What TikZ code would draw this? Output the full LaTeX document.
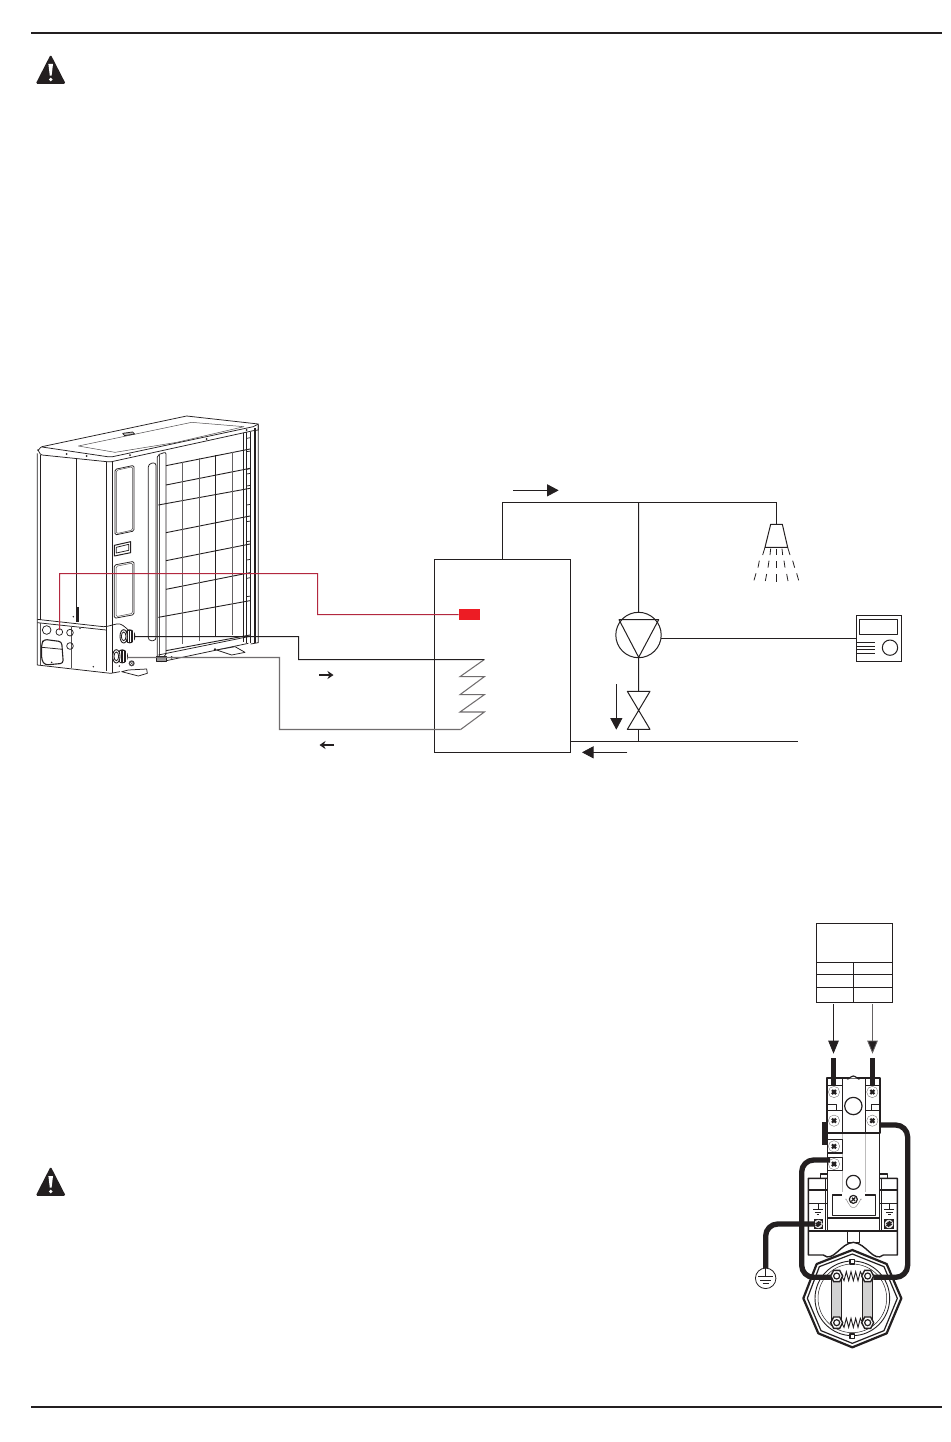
\documentclass[tikz,border=0pt]{standalone}
\usetikzlibrary{arrows.meta,shapes.geometric,calc}
\definecolor{ink}{HTML}{231F20}
\definecolor{sensorred}{HTML}{ED1C24}
\definecolor{redwire}{HTML}{B3283F}
\definecolor{bargray}{HTML}{D2D2D2}
\tikzset{
  rule/.style={draw=ink,line width=1.9pt},
  unit/.style={draw=ink,line width=.75pt,line join=round},
  unitthin/.style={draw=ink!80,line width=.5pt,line join=round},
  grill/.style={draw=ink,line width=.9pt},
  grillv/.style={draw=ink!70,line width=.9pt},
  pipe/.style={draw=ink,line width=1pt},
  pipegray/.style={draw=ink!65,line width=1.05pt},
  flow/.style={draw=ink,line width=.8pt,-{Triangle[length=11.5pt,width=12pt,fill=ink]}},
  smallflow/.style={draw=ink,line width=1.1pt,-{Stealth[length=6pt,width=8pt,inset=2pt,fill=ink]}},
  power/.style={draw=ink,line width=.8pt,-{Triangle[length=13pt,width=10.5pt,fill=ink]}},
  thickwire/.style={draw=ink,line width=5.3pt,line join=round},
  part/.style={draw=ink,line width=1pt,line join=round},
  heavy/.style={draw=ink,line width=1.8pt,line join=round},
  lightline/.style={draw=ink!30,line width=.9pt},
  warnsign/.pic={
    \fill[ink,rounded corners=1.5pt] (0,-15) -- (15,14.3) -- (-15,14.3) -- cycle;
    \fill[white] (-2.3,-5.5) -- (2.3,-5.5) -- (.9,6.2) -- (-.9,6.2) -- cycle;
    \fill[white] (0,10) circle[radius=1.9];
  },
  screw/.pic={
    \draw[ink!65,line width=.35pt,fill=white] (0,0) circle[radius=17];
    \draw[ink,line width=2.2pt] (-6,-6) -- (6,6) (-6,6) -- (6,-6);
  },
  earthscrew/.pic={
    \fill[ink] (-14,-14) rectangle (14,14);
    \draw[white,line width=.5pt,fill=ink!15] (0,0) circle[radius=12];
    \draw[ink,line width=1.2pt] (-8,6) -- (8,-6) (-8,0) -- (3,-8) (-3,8) -- (8,0);
  },
  nut/.pic={
    \draw[ink,line width=1.4pt,fill=white] (-9,-17) -- (9,-17) -- (18,0) -- (9,17) -- (-9,17) -- (-18,0) -- cycle;
    \draw[ink,line width=1.2pt,fill=white] (0,0) circle[radius=9];
  },
  earthsym/.pic={
    \draw[ink,line width=.85pt] (0,-18) -- (0,0) (-15,0) -- (15,0) (-10,8) -- (10,8) (-4,15) -- (4,15);
  },
  knob/.pic={
    \fill[ink] (18,0) ellipse[x radius=17,y radius=21];
    \foreach \d in {12,20,28} \draw[white,line width=.3pt] (\d,-16) -- (\d,16);
    \draw[ink,line width=.9pt,fill=white] (0,0) ellipse[x radius=11,y radius=20];
    \draw[ink,line width=.8pt] (0,0) ellipse[x radius=7,y radius=13];
  },
  zoomA/.style={shift={(20,400)},x=.33333pt,y=-.33333pt},
  zoomB/.style={shift={(420,470)},x=.33333pt,y=-.33333pt},
  zoomC/.style={shift={(740,1130)},x=.33333pt,y=-.33333pt},
}
\begin{document}
\begin{tikzpicture}[x=1pt,y=-1pt]
\useasboundingbox (0,0) rectangle (950,1442);
\fill[white] (0,0) rectangle (950,1442);

% page rules and warning signs
\coordinate (ruleTopL) at (31,33);   \coordinate (ruleTopR) at (942,33);
\coordinate (ruleBotL) at (31,1407); \coordinate (ruleBotR) at (942,1407);
\draw[rule] (ruleTopL) -- (ruleTopR);
\draw[rule] (ruleBotL) -- (ruleBotR);
\pic at (50.7,69.5) {warnsign};
\pic at (50.7,1181.5) {warnsign};

% ---------- outdoor unit ----------
\begin{scope}[zoomA]
  % top face
  \draw[unit] (52,150) to[out=-70,in=190] (66,140) -- (500,48) -- (715,72) -- (715,90) -- (700,92) -- (275,185) to[out=190,in=0] (260,185) -- (66,165) to[out=190,in=70] (52,150);
  \draw[unit] (66,141) -- (262,170) -- (278,170) -- (700,80) -- (715,72);
  \draw[unitthin] (175,138) -- (515,67) -- (672,80) -- (470,127) -- (285,157) -- cycle;
  \draw[unit,fill=ink!30] (308,100) -- (338,96) -- (344,102) -- (314,107) -- cycle;
  \foreach \p in {(140,162),(200,168),(330,165),(560,117),(680,90)} \fill[ink] \p circle[radius=3];
  % body
  \draw[unit] (52,160) -- (52,795) -- (272,820) -- (300,815);
  \draw[unit] (60,165) -- (60,660);
  \draw[unit] (170,178) -- (170,665);
  \draw[unit] (260,187) -- (260,812);
  \draw[unit] (276,186) -- (276,820);
  \fill[ink] (168,622) rectangle (177,665);
  \draw[unit] (52,658) -- (250,680) to[out=0,in=190] (290,672) to[out=10,in=140] (325,690);
  \draw[unit] (52,668) -- (258,690);
  \draw[unitthin] (155,680) -- (155,805);
  \draw[unitthin] (62,668) -- (62,795);
  \foreach \c/\r in {(80,690)/13,(118,696)/10,(150,698)/10,(150,738)/10} \draw[unit] \c circle[radius=\r];
  \draw[unit,rounded corners=3pt,line width=1.1pt] (65,730) -- (72,718) -- (125,725) -- (130,790) -- (75,795) -- (65,780) -- cycle;
  \draw[unit] (66,742) -- (128,748);
  \foreach \p in {(95,787),(180,685),(220,800),(160,650),(298,798)} \fill[ink] \p circle[radius=2.5];
  % side panels
  \draw[unit,rounded corners=1.5pt] (285,208) -- (342,196) -- (342,393) -- (285,405) -- cycle;
  \draw[unitthin,rounded corners=1.5pt] (289,211) -- (338,200) -- (338,390) -- (289,401) -- cycle;
  \draw[unit,line width=1pt] (283,436) -- (332,425) -- (332,458) -- (283,468) -- cycle;
  \draw[unit] (289,442) -- (326,433) -- (326,451) -- (289,459) -- cycle;
  \draw[unit,rounded corners=1.5pt] (283,495) -- (342,484) -- (342,644) -- (283,655) -- cycle;
  \draw[unitthin,rounded corners=1.5pt] (288,499) -- (338,489) -- (338,640) -- (288,650) -- cycle;
  \draw[unit,rounded corners=3pt] (385,192) -- (408,187) -- (408,722) -- (385,722) -- cycle;
  % grill frame
  \draw[unit,rounded corners=2pt] (412,165) -- (438,156) -- (438,768) -- (412,775) -- cycle;
  \draw[unitthin] (418,165) -- (418,772);
  \draw[unit] (670,100) -- (670,725);
  \draw[unit] (680,95) -- (680,728);
  \draw[unit,line width=1.1pt] (692,95) -- (692,730);
  \draw[unit,line width=1.1pt] (705,85) -- (705,730);
  \draw[unit] (715,75) -- (715,728) -- (692,732);
  \foreach \y in {115,155,208,222,258,315,365,425,480,535,590} \draw[unit] (680,\y) -- (692,\y-2);
  % grill
  \foreach \a/\b in {438/197,438/255,415/315,438/398,438/482,438/568,415/652}
    \draw[grill] (\a,\b) -- (690,\b-50);
  \draw[grill] (438,752) -- (690,705);
  \foreach \x/\a/\b in {487/186/732,537/175/722,637/155/705}
    \draw[grillv] (\x,\a) -- (\x,\b);
  \draw[grill] (587,165) -- (587,712);
  % base and feet
  \draw[unit] (415,765) -- (685,710);
  \draw[unit] (425,785) -- (685,730);
  \draw[unit,fill=ink!45] (410,768) rectangle (438,785);
  \foreach \p in {(455,772),(585,748)} \fill[ink] \p circle[radius=4];
  \draw[unit,fill=white] (590,750) -- (645,740) -- (675,757) -- (635,765) -- cycle;
  \draw[unit,fill=white] (325,810) -- (380,807) -- (382,820) -- (355,828) -- (305,815) -- cycle;
  \fill[ink!85] (335,790) circle[radius=9];
  \draw[white,line width=.4pt] (335,790) circle[radius=4];
  % valves
  \pic at (311,709) {knob};
  \pic at (289,769) {knob};
  \coordinate (valveUpper) at (345,709.5);
  \coordinate (valveLower) at (322,772.5);
  \coordinate (redHole) at (118.5,690);
\end{scope}

% ---------- hot water circuit ----------
\node[draw=ink,line width=1pt,minimum width=136pt,minimum height=193pt,inner sep=0pt,outer sep=0pt] (tank) at (502.5,656) {};
\node[fill=sensorred,minimum width=21.5pt,minimum height=10.6pt,inner sep=0pt,outer sep=0pt] (sensor) at (469.3,614.5) {};
\node[draw=ink,line width=1pt,circle,minimum size=45.4pt,inner sep=0pt,outer sep=0pt] (pump) at (638.5,635) {};
\node[draw=ink,line width=1pt,minimum width=45pt,minimum height=46pt,inner sep=0pt,outer sep=0pt] (controller) at (879,638.5) {};

\begin{scope}[zoomB]
  % coil
  \coordinate (coilTop) at (193,568.5);
  \coordinate (coilBot) at (122,778.5);
  \draw[pipegray,line join=miter] (coilTop) -- (120,620) -- (193,620) -- (120,674) -- (193,674) -- (120,726) -- (193,726) -- (coilBot);
  % pump triangle
  \draw[part] (597,449) -- (716,449) -- (656,562) -- cycle;
  % valve
  \draw[part] (622,664) -- (690,664) -- (622,778) -- (690,778) -- cycle;
  \coordinate (valveTop) at (655.5,664);
  \coordinate (valveBot) at (655.5,778);
  % shower
  \coordinate (showerTop) at (1069.5,163);
  \draw[part] (1052,163) -- (1087,163) -- (1103,232) -- (1035,232) -- cycle;
  \foreach \a/\b/\c/\d in {1035/232/1028/255, 1018/272/1014/293, 1008/310/1002/331,
      1052/236/1050/255, 1047/272/1044/293, 1040/312/1036/333,
      1069/236/1069/255, 1069/273/1069/295, 1069/313/1069/335,
      1086/236/1088/255, 1092/272/1095/293, 1100/312/1104/333,
      1103/232/1110/255, 1118/272/1124/293, 1130/310/1136/331}
    \draw[ink,line width=.8pt] (\a,\b) -- (\c,\d);
  % controller details
  \draw[part] (1318,448) rectangle (1433,493);
  \draw[part] (1410,533) circle[radius=23];
  \foreach \y in {517,528,539,550} \draw[part] (1309,\y) -- (1365,\y);
  % junctions and free ends
  \coordinate (topJunction) at (655.5,97.5);
  \coordinate (topCorner) at (1069.5,97.5);
  \coordinate (lowJunction) at (655.5,814.5);
  \coordinate (lowStart) at (451,814.5);
  \coordinate (lowEnd) at (1135,814.5);
  % flow arrow ends
  \coordinate (f1a) at (280,61);  \coordinate (f1b) at (416,61);
  \coordinate (f2a) at (589,642); \coordinate (f2b) at (589,779);
  \coordinate (f3a) at (622,847); \coordinate (f3b) at (486,847);
\end{scope}

% pipes of the water circuit
\draw[pipe] (tank.north) |- (topCorner) -- (showerTop);
\draw[pipe] (topJunction) -- (pump.north);
\draw[pipe] (pump.south) -- (valveTop);
\draw[pipe] (valveBot) -- (lowJunction);
\draw[pipe] (lowStart) -- (lowEnd);
\draw[pipe] (controller.west) -- (pump.east |- controller.west);
\draw[flow] (f1a) -- (f1b);
\draw[flow] (f2a) -- (f2b);
\draw[flow] (f3a) -- (f3b);

% connections between unit and tank
\coordinate (bendA1) at (298.5,636.5);
\coordinate (bendA2) at (298.5,659.5);
\coordinate (bendB1) at (279.5,657.5);
\coordinate (bendB2) at (279.5,729.5);
\draw[pipe] (valveUpper) -- (bendA1) -- (bendA2) -- (coilTop);
\draw[pipegray] (valveLower) -- (bendB1) -- (bendB2) -- (coilBot);
\coordinate (redBend1) at (59.5,573.5);
\coordinate (redBend2) at (317.5,573.5);
\coordinate (redBend3) at (317.5,614.5);
\draw[redwire,line width=1pt] (redHole) -- (redBend1) -- (redBend2) -- (redBend3) -- (sensor.west);
\coordinate (sf1a) at (319,675); \coordinate (sf1b) at (333.5,675);
\coordinate (sf2a) at (334,745); \coordinate (sf2b) at (319.5,745);
\draw[smallflow] (sf1a) -- (sf1b);
\draw[smallflow] (sf2a) -- (sf2b);

% ---------- wiring diagram ----------
\node[draw=ink,line width=1pt,minimum width=76pt,minimum height=79pt,inner sep=0pt,outer sep=0pt] (supply) at (854.5,963) {};

\begin{scope}[zoomC,part/.style={draw=ink,line width=1.2pt,line join=round}]
  % supply table
  \foreach \y in {-503,-467,-428} \draw[part] (229,\y) -- (457,\y);
  \draw[part] (340,-503) -- (340,-383);
  \coordinate (pa1) at (280.5,-377); \coordinate (pa2) at (280.5,-229);
  \coordinate (pb1) at (397.5,-377); \coordinate (pb2) at (397.5,-229);
  % lower housing: side blocks, neck
  \draw[part,line width=1.4pt] (262,145) -- (205,145) -- (205,375) -- (250,375) to[out=-40,in=183] (340,337) to[out=-3,in=220] (430,375) -- (472,375) -- (472,145) -- (420,145);
  \draw[part] (242,145) -- (242,132) -- (262,132);
  \draw[part] (442,145) -- (442,132) -- (420,132);
  \draw[part] (205,180) -- (262,180);
  \draw[part] (420,180) -- (472,180);
  \draw[part] (205,220) -- (262,220);
  \draw[part] (420,220) -- (472,220);
  \draw[part,line width=1.4pt] (205,303) -- (472,303);
  \draw[part] (322,305) rectangle (358,338);
  \draw[part] (256,145) -- (256,303);
  \draw[part] (424,145) -- (424,303);
  % thermostat body
  \draw[heavy,fill=white] (260,-155) -- (420,-155) -- (420,8) -- (260,8) -- cycle;
  \draw[part,fill=white,line width=1.4pt] (262,8) rectangle (418,264);
  \draw[part,fill=white,line width=1.5pt] (262,264) rectangle (418,303);
  \draw[part] (307,-155) -- (307,8) (377,-155) -- (377,8);
  \draw[lightline] (307,8) -- (307,185);
  \draw[lightline] (375,8) -- (375,185);
  \draw[part,fill=white] (320,-155) to[out=-60,in=180] (340,-162) to[out=0,in=-120] (360,-155);
  \draw[part] (262,-133) -- (307,-133) (262,-58) -- (307,-58) (377,-133) -- (418,-133) (377,-58) -- (418,-58);
  \draw[part] (262,-77) rectangle (290,-58);
  \draw[part] (394,-77) rectangle (418,-58);
  \draw[part] (340,-72) circle[radius=26];
  \draw[heavy] (262,8) -- (418,8);
  \draw[part] (340,157) circle[radius=21];
  \draw[part] (305,195) -- (277,195) -- (277,257) -- (407,257) -- (407,195) -- (375,195);
  \draw[part,fill=white] (340,208) circle[radius=12];
  \draw[ink,line width=1.2pt] (334,214) -- (346,202) (336,203) -- (345,213);
  \draw[ink!50,line width=.5pt] (316,208) to[out=90,in=200] (340,232) to[out=-20,in=90] (365,208);
  \draw[part] (262,28) rectangle (307,69);
  \draw[part] (262,82) rectangle (307,122);
  % screws
  \pic at (282,-114) {screw};
  \pic at (397,-114) {screw};
  \pic at (282,-28) {screw};
  \pic at (397,-28) {screw};
  \pic at (282,49) {screw};
  \pic at (282,102) {screw};
  \pic at (235,282) {earthscrew};
  \pic at (447,282) {earthscrew};
  \pic at (234,238) {earthsym};
  \pic at (448,238) {earthsym};
  % heating element head
  \draw[ink,line width=2.2pt,line join=round,fill=white] (337,360) -- (440,402) -- (484,505) -- (440,610) -- (337,652) -- (235,610) -- (190,505) -- (230,402) -- cycle;
  \draw[part] (337,372) -- (432,410) -- (472,505) -- (432,602) -- (337,640) -- (243,602) -- (202,505) -- (238,410) -- cycle;
  \draw[ink,line width=.9pt] (337,505) circle[radius=112];
  \draw[ink,line width=.5pt] (337,505) circle[radius=103];
  \draw[part,fill=white] (330,388) rectangle (344,402);
  \draw[part,fill=white] (330,612) rectangle (344,626);
  \foreach \x in {275,368} \draw[part,fill=bargray] (\x,438) rectangle (\x+29,578);
  \draw[ink,line width=.9pt,line join=miter] (305,438) -- (312,452) -- (319,425) -- (326,452) -- (333,425) -- (340,452) -- (347,425) -- (354,452) -- (361,425) -- (368,438);
  \draw[ink,line width=.9pt,line join=miter] (305,578) -- (312,592) -- (319,565) -- (326,592) -- (333,565) -- (340,592) -- (347,565) -- (354,592) -- (361,565) -- (368,578);
  % black strip by terminal block
  \fill[ink] (247,-25) rectangle (262,45);
  % thick wires
  \coordinate (wireRa) at (418,-15);
  \coordinate (wireRb) at (400,442);
  \coordinate (wireLa) at (270,90);
  \coordinate (wireLb) at (275,442);
  \coordinate (wireGa) at (225,282);
  \coordinate (wireGb) at (77,415);
  \draw[thickwire] (pa2 |- 0,-215) -- (pa2 |- 0,-132);
  \draw[thickwire] (pb2 |- 0,-215) -- (pb2 |- 0,-132);
  \draw[thickwire,rounded corners=12pt] (wireRa) -- (503,-15) -- (503,442) -- (wireRb);
  \draw[thickwire,rounded corners=12pt] (wireLa) -- (185,90) -- (185,442) -- (wireLb);
  \draw[thickwire,rounded corners=12pt] (wireGa) -- (77,282) -- (wireGb);
  \pic at (290,438) {nut};
  \pic at (383,438) {nut};
  \pic at (290,578) {nut};
  \pic at (383,578) {nut};
  % ground symbol
  \node[draw=ink,line width=.8pt,circle,minimum size=20.5pt,inner sep=0pt,outer sep=0pt,fill=white] (earth) at (77,445) {};
  \draw[ink,line width=.8pt] (77,415) -- (77,440) (55,440) -- (99,440) (60,450) -- (94,450) (68,460) -- (86,460);
\end{scope}
\draw[power] (pa1) -- (pa2);
\draw[power,draw=ink!70] (pb1) -- (pb2);
\end{tikzpicture}
\end{document}
